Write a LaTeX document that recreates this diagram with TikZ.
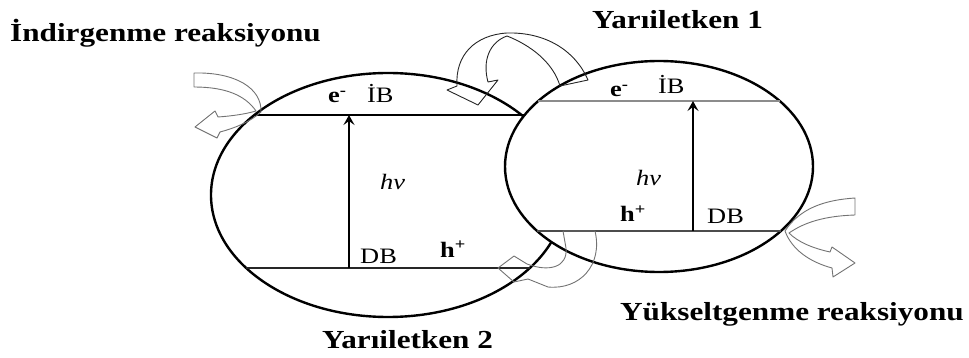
\documentclass[tikz,border=0pt]{standalone}
\usepackage{fontspec}
\usepackage{graphicx}
\setmainfont{Liberation Serif}
\usetikzlibrary{arrows.meta,shapes.geometric}
\tikzset{
  semi/.style={draw=black, line width=2.4pt, ellipse, inner sep=0pt},
  band/.style={line width=2pt},
  excite/.style={line width=1.8pt, -{Stealth[length=10pt,width=11pt,inset=4pt]}},
  hollow/.style={draw=black!55, line width=0.9pt, line join=round},
  hollowdark/.style={draw=black!85, line width=0.9pt, line join=round},
  lab/.style={inner sep=0pt, anchor=base west},
  titlefont/.style={font=\bfseries\fontsize{26}{30}\selectfont},
  smallfont/.style={font=\fontsize{22}{26}\selectfont},
}
\begin{document}
\begin{tikzpicture}[x=1pt,y=-1pt]
\useasboundingbox (0,0) rectangle (969,358);

% ---- Yariiletken 2 (left) ----
\node[semi, minimum width=354pt, minimum height=244pt] (Y2) at (388,195) {};
\coordinate (L2ib) at (254.4,115);
\coordinate (R2ib) at (530,115);
\coordinate (L2db) at (246.2,268);
\coordinate (R2db) at (529.8,268);
\coordinate (A2s) at (349,268);
\coordinate (A2e) at (349,115);
\draw[band] (L2ib) -- (R2ib);
\draw[band, line width=1.6pt, black!85] (L2db) -- (R2db);
\draw[excite] (A2s) -- (A2e);

% ---- Yariiletken 1 (right) ----
\node[semi, fill=white, minimum width=308pt, minimum height=211pt] (Y1) at (659,166.5) {};
\coordinate (L1ib) at (538.3,101);
\coordinate (R1ib) at (779.7,101);
\coordinate (L1db) at (537.1,231);
\coordinate (R1db) at (780.9,231);
\coordinate (A1s) at (693,231);
\coordinate (A1e) at (693,101);
\draw[band, black!45] (L1ib) -- (R1ib);
\draw[band, line width=2.4pt, black!70] (L1db) -- (R1db);
\draw[excite] (A1s) -- (A1e);

% ---- hollow curved arrows ----
% reduction (left)
\draw[hollow] (194,73) .. controls (235,72) and (262,88) .. (261,112)
  .. controls (250,122) and (235,128) .. (220,132)
  -- (217,138) -- (195,127) -- (215,111) -- (218,117)
  .. controls (232,116) and (246,114) .. (256,111)
  .. controls (245,95) and (225,87) .. (194,87) -- cycle;
% oxidation (right)
\draw[hollow] (855,198) .. controls (825,200) and (800,208) .. (785,231)
  .. controls (792,250) and (810,262) .. (832,268)
  -- (833,277) -- (855,263) -- (832,247) -- (830,252)
  .. controls (812,248) and (798,242) .. (789,233)
  .. controls (805,222) and (825,216) .. (855,215) -- cycle;
% electron transfer (top)
\draw[hollowdark] (588,80) .. controls (575,50) and (545,32) .. (507,33)
  .. controls (475,35) and (455,55) .. (457,86)
  -- (447,90) -- (478,105) -- (498,80) -- (488,82)
  .. controls (482,60) and (490,42) .. (507,36)
  .. controls (530,45) and (553,62) .. (560,86) -- cycle;
% hole transfer (bottom)
\draw[hollow] (595,231) .. controls (603,265) and (580,290) .. (548,287)
  -- (528,279) -- (514,282) -- (498,268) -- (514,256) -- (527,264)
  .. controls (548,272) and (568,268) .. (566,248) -- (563,231) -- cycle;

% ---- titles ----
\node[lab, titlefont] (tInd) at (10,42) {\scalebox{1.2}[1]{İndirgenme reaksiyonu}};
\node[lab, titlefont] (tY1) at (592,29) {\scalebox{1.2}[1]{Yarıiletken 1}};
\node[lab, titlefont] (tY2) at (322,348) {\scalebox{1.2}[1]{Yarıiletken 2}};
\node[lab, titlefont] (tYuk) at (620,320) {\scalebox{1.2}[1]{Yükseltgenme reaksiyonu}};

% ---- inner labels, left ----
\node[lab, smallfont] (e2) at (328,103) {\scalebox{1.2}[1]{\bfseries e\textsuperscript{-}}};
\node[lab, smallfont] (ib2) at (367,103) {\scalebox{1.2}[1]{İB}};
\node[lab, smallfont] (hv2) at (380,190) {\scalebox{1.2}[1]{\itshape hν}};
\node[lab, smallfont] (db2) at (360,263) {\scalebox{1.2}[1]{DB}};
\node[lab, smallfont] (h2) at (440,257) {\scalebox{1.2}[1]{\bfseries h\textsuperscript{+}}};

% ---- inner labels, right ----
\node[lab, smallfont] (e1) at (610,97) {\scalebox{1.2}[1]{\bfseries e\textsuperscript{-}}};
\node[lab, smallfont] (ib1) at (658,94) {\scalebox{1.2}[1]{İB}};
\node[lab, smallfont] (hv1) at (636,186) {\scalebox{1.2}[1]{\itshape hν}};
\node[lab, smallfont] (db1) at (707,223) {\scalebox{1.2}[1]{DB}};
\node[lab, smallfont] (h1) at (620,222) {\scalebox{1.2}[1]{\bfseries h\textsuperscript{+}}};
\end{tikzpicture}
\end{document}
